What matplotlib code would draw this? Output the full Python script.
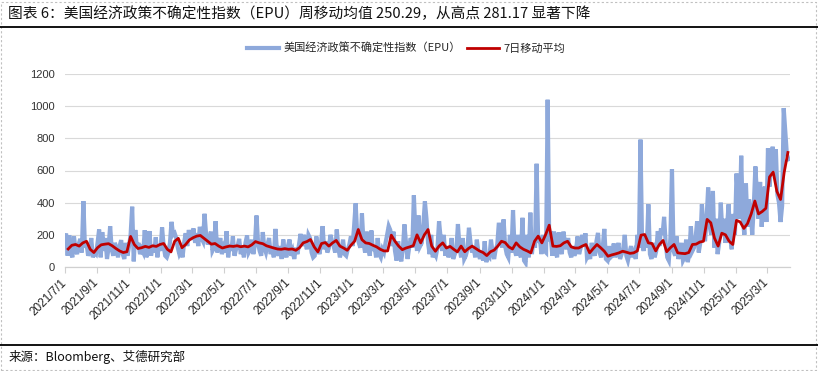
import numpy as np
import pandas as pd
import matplotlib
matplotlib.use('Agg')
import matplotlib.pyplot as plt
from matplotlib.patches import Rectangle
from matplotlib.lines import Line2D

epu_values = [
    150, 208, 70, 198, 90, 60, 190, 110, 80, 140,
    175, 90, 410, 120, 150, 70, 100, 180, 60, 90,
    80, 150, 233, 60, 217, 100, 180, 50, 120, 254,
    110, 70, 150, 120, 60, 130, 167, 80, 50, 150,
    70, 130, 200, 375, 35, 230, 120, 150, 80, 110,
    90, 229, 60, 110, 223, 70, 130, 90, 185, 60,
    140, 100, 246, 130, 70, 60, 90, 150, 281, 200,
    210, 180, 120, 80, 100, 60, 150, 210, 130, 230,
    170, 200, 240, 150, 210, 130, 250, 180, 160, 331,
    200, 140, 170, 220, 100, 120, 285, 90, 130, 180,
    80, 120, 90, 223, 60, 140, 100, 190, 70, 110,
    130, 175, 80, 120, 60, 150, 196, 90, 110, 170,
    80, 140, 320, 150, 100, 70, 217, 120, 90, 140,
    180, 80, 120, 60, 237, 100, 70, 130, 50, 171,
    90, 60, 130, 171, 70, 100, 50, 120, 80, 140,
    206, 130, 200, 160, 110, 200, 180, 90, 60, 70,
    190, 120, 80, 150, 254, 110, 160, 90, 120, 200,
    160, 130, 90, 233, 120, 60, 100, 170, 80, 70,
    110, 140, 190, 130, 250, 396, 200, 150, 120, 333,
    150, 90, 220, 120, 70, 227, 100, 130, 60, 180,
    80, 60, 110, 90, 150, 200, 254, 230, 130, 220,
    100, 40, 160, 70, 35, 110, 265, 150, 50, 120,
    180, 120, 446, 200, 100, 320, 130, 150, 260, 408,
    300, 150, 80, 200, 60, 90, 70, 120, 285, 180,
    100, 200, 70, 130, 60, 90, 180, 50, 80, 110,
    267, 120, 60, 180, 50, 70, 110, 244, 150, 90,
    120, 60, 170, 90, 50, 100, 40, 160, 30, 70,
    60, 170, 90, 50, 110, 140, 275, 200, 120, 296,
    130, 80, 60, 200, 90, 354, 110, 70, 200, 100,
    60, 306, 40, 25, 200, 60, 338, 80, 180, 120,
    642, 150, 190, 80, 200, 100, 90, 1040, 160, 180,
    70, 220, 100, 60, 215, 120, 80, 220, 150, 110,
    180, 90, 60, 130, 70, 100, 190, 80, 120, 200,
    130, 210, 60, 80, 50, 150, 100, 70, 160, 212,
    90, 60, 120, 237, 50, 40, 130, 60, 70, 146,
    60, 100, 150, 50, 80, 110, 200, 70, 40, 90,
    130, 60, 90, 50, 200, 120, 792, 150, 100, 200,
    120, 390, 80, 50, 150, 60, 100, 223, 130, 240,
    200, 312, 150, 60, 40, 180, 608, 100, 70, 190,
    50, 90, 150, 40, 60, 170, 30, 80, 254, 100,
    120, 180, 285, 90, 150, 390, 250, 160, 300, 494,
    250, 200, 473, 120, 300, 80, 150, 400, 220, 300,
    150, 250, 390, 180, 110, 330, 200, 581, 420, 300,
    692, 300, 200, 519, 250, 420, 350, 200, 380, 625,
    450, 300, 529, 250, 400, 500, 280, 738, 500, 650,
    748, 600, 733, 450, 400, 280, 380, 988, 848, 700,
    670,
]
epu_start = '2021-07-01'

ma7_values = [
    112, 135, 140, 130, 150, 160, 110, 90, 120, 138,
    142, 145, 132, 115, 100, 90, 95, 190, 140, 115,
    120, 128, 122, 132, 128, 140, 146, 110, 94, 160,
    178, 120, 140, 168, 182, 192, 196, 178, 160, 142,
    146, 130, 118, 125, 130, 128, 132, 126, 130, 125,
    138, 158, 150, 145, 132, 125, 118, 112, 110, 114,
    110, 112, 104, 120, 150, 158, 171, 125, 94, 146,
    152, 130, 150, 165, 130, 118, 104, 135, 160, 233,
    170, 150, 146, 135, 125, 110, 100, 100, 198, 160,
    130, 108, 118, 125, 133, 200, 150, 200, 233, 130,
    98, 130, 150, 118, 128, 110, 94, 130, 95, 115,
    130, 115, 100, 90, 71, 95, 105, 130, 160, 152,
    125, 112, 150, 125, 110, 100, 88, 160, 192, 150,
    200, 260, 130, 128, 132, 150, 160, 125, 118, 118,
    130, 140, 88, 115, 140, 120, 98, 67, 75, 81,
    88, 98, 92, 85, 88, 100, 198, 202, 150, 146,
    100, 140, 165, 95, 120, 140, 88, 85, 83, 90,
    140, 142, 155, 160, 296, 275, 180, 130, 210, 200,
    160, 140, 290, 280, 240, 270, 330, 410, 330, 345,
    365, 560, 590, 470, 420, 590, 712,
]
ma7_start = '2021-07-08'

tick_labels = ['2021/7/1', '2021/9/1', '2021/11/1', '2022/1/1', '2022/3/1',
               '2022/5/1', '2022/7/1', '2022/9/1', '2022/11/1', '2023/1/1',
               '2023/3/1', '2023/5/1', '2023/7/1', '2023/9/1', '2023/11/1',
               '2024/1/1', '2024/3/1', '2024/5/1', '2024/7/1', '2024/9/1',
               '2024/11/1', '2025/1/1', '2025/3/1']
y_ticks = [0, 200, 400, 600, 800, 1000, 1200]

series_names = ['美国经济政策不确定性指数（EPU）', '7日移动平均']
title = '图表 6：美国经济政策不确定性指数（EPU）周移动均值 250.29，从高点 281.17 显著下降'
source = '来源：Bloomberg、艾德研究部'

CJK = ['Noto Sans CJK SC', 'DejaVu Sans']
plt.rcParams['font.family'] = CJK

W, H = 818, 371
fig = plt.figure(figsize=(W / 100, H / 100), dpi=100)
fig.patch.set_facecolor('white')

left, right, top, bottom = 64.5, 790, 74, 267
ax = fig.add_axes([left / W, 1 - bottom / H, (right - left) / W, (bottom - top) / H])

d_epu = pd.date_range(epu_start, periods=len(epu_values), freq='3D')
d_ma = pd.date_range(ma7_start, periods=len(ma7_values), freq='7D')

l1, = ax.plot(d_epu, epu_values, color='#8EA9DB', lw=3.0, solid_joinstyle='miter', zorder=2)
l2, = ax.plot(d_ma, ma7_values, color='#C00000', lw=2.0, zorder=3)

x0 = pd.Timestamp('2021-07-01')
ax.set_xlim(x0, x0 + pd.Timedelta(days=1383))
ax.set_ylim(0, 1200)

ax.set_yticks(y_ticks)
ax.set_yticklabels([str(v) for v in y_ticks], fontsize=8, color='#333333',
                   family=['Liberation Sans', 'DejaVu Sans'])
ax.tick_params(axis='y', length=0, pad=7)

tick_dates = pd.to_datetime(tick_labels, format='%Y/%m/%d')
ax.set_xticks(tick_dates)
ax.set_xticklabels(tick_labels, rotation=45, ha='right', va='center',
                   rotation_mode='anchor', fontsize=8.5, color='#222222',
                   family=['Liberation Sans', 'DejaVu Sans'])
ax.tick_params(axis='x', length=4, width=0.8, color='#d0d0d0', direction='out', pad=6)

for s in ['top', 'right', 'left']:
    ax.spines[s].set_visible(False)
ax.spines['bottom'].set_color('#d0d0d0')
ax.spines['bottom'].set_linewidth(0.9)
ax.grid(axis='y', color='#d9d9d9', lw=0.8)
ax.set_axisbelow(True)

fig.legend([l1, l2], series_names, loc='center', bbox_to_anchor=(406 / W, 1 - 48 / H),
           ncol=2, frameon=False, fontsize=8, handlelength=2.9, handletextpad=0.35,
           columnspacing=0.6, labelcolor='#262626')

fig.text(8 / W, 1 - 14 / H, title, fontsize=10.6, ha='left', va='center', color='#111111')
fig.add_artist(Line2D([0, 1], [1 - 27 / H] * 2, color='black', lw=1.3, transform=fig.transFigure))
fig.add_artist(Line2D([0, 1], [1 - 345 / H] * 2, color='black', lw=1.3, transform=fig.transFigure))
fig.text(9 / W, 1 - 357 / H, source, fontsize=9, ha='left', va='center', color='#111111')

fig.add_artist(Rectangle((1 / W, 1 / H), (W - 3) / W, (H - 3) / H, transform=fig.transFigure,
                         fill=False, ec='#c0c0c0', lw=0.8, ls=(0, (2, 2))))

fig.savefig('out.png', dpi=100)
